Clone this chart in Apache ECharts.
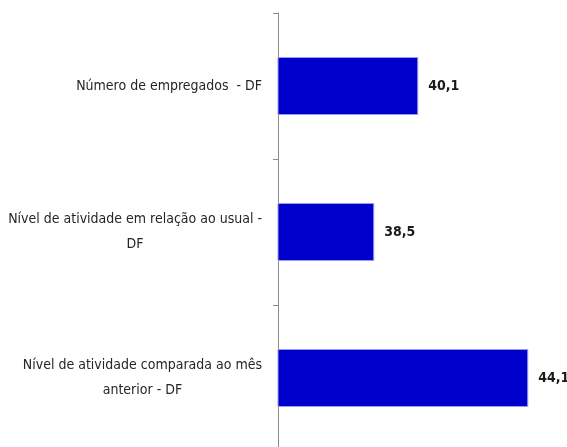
<!DOCTYPE html>
<html>
<head>
<meta charset="utf-8">
<script src="https://cdn.jsdelivr.net/npm/echarts@6/dist/echarts.min.js"></script>
<style>
  html, body { margin: 0; padding: 0; background: #fff; }
  #main { width: 567px; height: 447px; }
</style>
</head>
<body>
<div id="main"></div>
<script>
// categories (already wrapped the way the original labels are)
const categories = [
  'Número de empregados  - DF',
  'Nível de atividade em relação ao usual -\nDF',
  'Nível de atividade comparada ao mês\nanterior - DF'
]
const values = [40.1, 38.5, 44.1]

const chart = echarts.init(document.getElementById('main'))
const font = '"Liberation Sans Narrow", "DejaVu Sans Condensed", Lato, sans-serif'

chart.setOption({
  animation: false,
  grid: { left: 278, right: 14, top: 13, bottom: -4, outerBoundsMode: 'none', containLabel: false },
  xAxis: {
    type: 'value',
    min: 35,
    max: 45,
    show: false
  },
  yAxis: {
    type: 'category',
    inverse: true,
    data: categories,
    axisLine: { show: true, lineStyle: { color: '#8c8c8c', width: 1 } },
    axisTick: { show: true, length: 5, lineStyle: { color: '#8c8c8c' } },
    axisLabel: {
      margin: 16,
      formatter: (v) => v.split('\n').map((s) => '{c|' + s + '}').join('\n'),
      rich: {
        c: {
          align: 'center',
          fontFamily: font,
          fontSize: 14,
          lineHeight: 25,
          color: '#262626'
        }
      }
    }
  },
  series: [
    {
      type: 'bar',
      data: values,
      barWidth: 58,
      itemStyle: {
        color: '#0000cc',
        borderColor: '#9a9af0',
        borderWidth: 1
      },
      label: {
        show: true,
        position: 'right',
        distance: 10,
        formatter: (p) => p.value.toFixed(1).replace('.', ','),
        fontFamily: font,
        fontSize: 14,
        fontWeight: 'bold',
        color: '#1a1a1a'
      }
    }
  ]
})
</script>
</body>
</html>
